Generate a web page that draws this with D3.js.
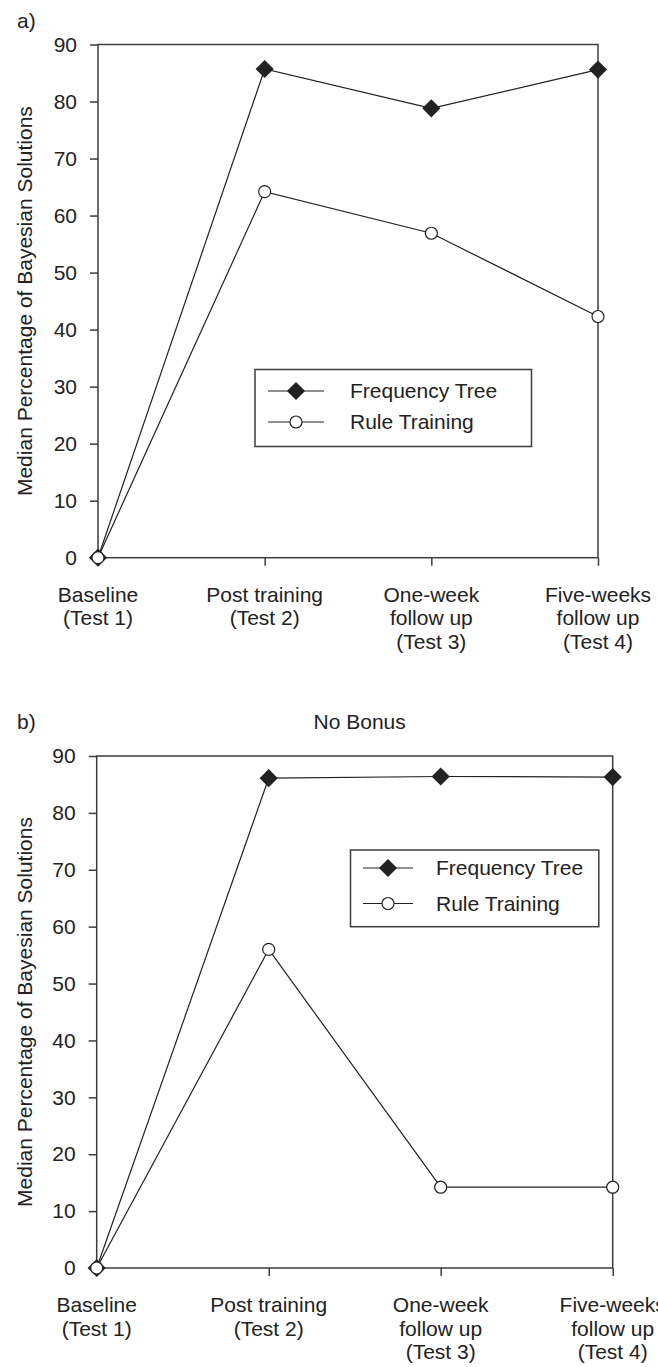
<!DOCTYPE html>
<html lang="en">
<head>
<meta charset="utf-8">
<title>Bayesian Solutions</title>
<script src="https://cdn.jsdelivr.net/npm/d3@7"></script>
<style>
  html, body { margin: 0; padding: 0; background: #fff; }
  svg { display: block; font-family: "Liberation Sans", Arial, sans-serif; }
  text { fill: #222; }
</style>
</head>
<body>
<svg id="chart" width="658" height="1367"></svg>
<script>

// categories (one array of lines per tick)
const categories = [
  ["Baseline", "(Test 1)"],
  ["Post training", "(Test 2)"],
  ["One-week", "follow up", "(Test 3)"],
  ["Five-weeks", "follow up", "(Test 4)"]
];
const yTicks = [0, 10, 20, 30, 40, 50, 60, 70, 80, 90];
const seriesNames = ["Frequency Tree", "Rule Training"];

// panel a
const treeA = [0, 85.7, 78.8, 85.6];
const ruleA = [0, 64.2, 56.9, 42.3];
// panel b (No Bonus)
const treeB = [0, 86.1, 86.4, 86.3];
const ruleB = [0, 56.0, 14.2, 14.2];

const yTitle = "Median Percentage of Bayesian Solutions";

const ink = "#222",
  axisInk = "#3d3d3d",
  fontSize = 21;

const svg = d3.select("#chart");

function panel(opt) {
  const g = svg.append("g");

  const x = d3.scalePoint()
    .domain(d3.range(categories.length))
    .range([opt.left, opt.right]);
  const y = d3.scaleLinear()
    .domain([0, 90])
    .range([opt.bottom, opt.top]);

  // frame
  g.append("rect")
    .attr("x", opt.left).attr("y", opt.top)
    .attr("width", opt.right - opt.left)
    .attr("height", opt.bottom - opt.top)
    .attr("fill", "none")
    .attr("stroke", axisInk)
    .attr("stroke-width", 1.5);

  // y axis
  const ya = g.append("g")
    .attr("transform", "translate(" + opt.left + ",0)")
    .call(d3.axisLeft(y).tickValues(yTicks).tickSize(8).tickPadding(13));
  ya.select(".domain").remove();
  ya.selectAll("line").attr("stroke", axisInk).attr("stroke-width", 1.5);
  ya.selectAll("text")
    .attr("font-size", fontSize)
    .attr("font-family", "Liberation Sans, Arial, sans-serif")
    .attr("fill", ink);

  // x axis
  const xa = g.append("g")
    .attr("transform", "translate(0," + opt.bottom + ")")
    .call(d3.axisBottom(x).tickSize(8).tickFormat(""));
  xa.select(".domain").remove();
  xa.selectAll("line").attr("stroke", axisInk).attr("stroke-width", 1.5);

  // multi-line category labels
  const lab = g.append("g").selectAll("text")
    .data(categories)
    .join("text")
    .attr("text-anchor", "middle")
    .attr("font-size", fontSize)
    .attr("x", function(d, i) { return x(i); })
    .attr("y", opt.bottom + 44);
  lab.selectAll("tspan")
    .data(function(d) { return d; })
    .join("tspan")
    .attr("x", function() { return d3.select(this.parentNode).attr("x"); })
    .attr("dy", function(d, i) { return i === 0 ? 0 : 23.5; })
    .text(function(d) { return d; });

  // y title
  g.append("text")
    .attr("transform", "translate(32," + ((opt.top + opt.bottom) / 2) + ") rotate(-90)")
    .attr("text-anchor", "middle")
    .attr("font-size", fontSize)
    .text(yTitle);

  // panel letter
  g.append("text")
    .attr("x", 17).attr("y", opt.letterY)
    .attr("font-size", fontSize)
    .text(opt.letter);

  if (opt.title) {
    g.append("text")
      .attr("x", (opt.left + opt.right) / 2 + 5)
      .attr("y", opt.letterY)
      .attr("text-anchor", "middle")
      .attr("font-size", fontSize)
      .text(opt.title);
  }

  const line = d3.line()
    .x(function(d, i) { return x(i); })
    .y(function(d) { return y(d); });

  const diamond = d3.symbol().type(d3.symbolSquare).size(165);

  // frequency tree (drawn first, circles sit on top)
  g.append("path")
    .datum(opt.tree)
    .attr("d", line)
    .attr("fill", "none")
    .attr("stroke", ink)
    .attr("stroke-width", 1.2);
  g.append("g").selectAll("path")
    .data(opt.tree)
    .join("path")
    .attr("d", diamond)
    .attr("transform", function(d, i) {
      return "translate(" + x(i) + "," + y(d) + ") rotate(45)";
    })
    .attr("fill", ink);

  // rule training
  g.append("path")
    .datum(opt.rule)
    .attr("d", line)
    .attr("fill", "none")
    .attr("stroke", ink)
    .attr("stroke-width", 1.2);
  g.append("g").selectAll("circle")
    .data(opt.rule)
    .join("circle")
    .attr("cx", function(d, i) { return x(i); })
    .attr("cy", function(d) { return y(d); })
    .attr("r", 6)
    .attr("fill", "#fff")
    .attr("stroke", ink)
    .attr("stroke-width", 1.2);

  // legend
  const L = opt.legend;
  const lg = g.append("g");
  lg.append("rect")
    .attr("x", L.x).attr("y", L.y)
    .attr("width", L.w).attr("height", L.h)
    .attr("fill", "#fff")
    .attr("stroke", axisInk)
    .attr("stroke-width", 1.5);
  const rows = lg.selectAll("g.row")
    .data(seriesNames)
    .join("g")
    .attr("class", "row")
    .attr("transform", function(d, i) {
      return "translate(0," + L.rows[i] + ")";
    });
  rows.append("line")
    .attr("x1", L.lineX1).attr("x2", L.lineX2)
    .attr("stroke", ink).attr("stroke-width", 1.2);
  rows.filter(function(d, i) { return i === 0; })
    .append("path")
    .attr("d", diamond)
    .attr("transform", "translate(" + ((L.lineX1 + L.lineX2) / 2) + ",0) rotate(45)")
    .attr("fill", ink);
  rows.filter(function(d, i) { return i === 1; })
    .append("circle")
    .attr("cx", (L.lineX1 + L.lineX2) / 2)
    .attr("r", 6)
    .attr("fill", "#fff")
    .attr("stroke", ink)
    .attr("stroke-width", 1.2);
  rows.append("text")
    .attr("x", L.textX)
    .attr("dy", "0.35em")
    .attr("font-size", fontSize)
    .text(function(d) { return d; });
}

panel({
  letter: "a)", letterY: 28,
  left: 98, right: 598, top: 44.5, bottom: 557.7,
  tree: treeA, rule: ruleA,
  legend: { x: 255, y: 369.5, w: 276.5, h: 77, rows: [391, 422], lineX1: 268, lineX2: 324, textX: 350 }
});

panel({
  letter: "b)", letterY: 729, title: "No Bonus",
  left: 96.7, right: 612.7, top: 756, bottom: 1268,
  tree: treeB, rule: ruleB,
  legend: { x: 350.5, y: 850, w: 248.3, h: 76.7, rows: [868, 903.5], lineX1: 363, lineX2: 413, textX: 436 }
});

</script>
</body>
</html>
